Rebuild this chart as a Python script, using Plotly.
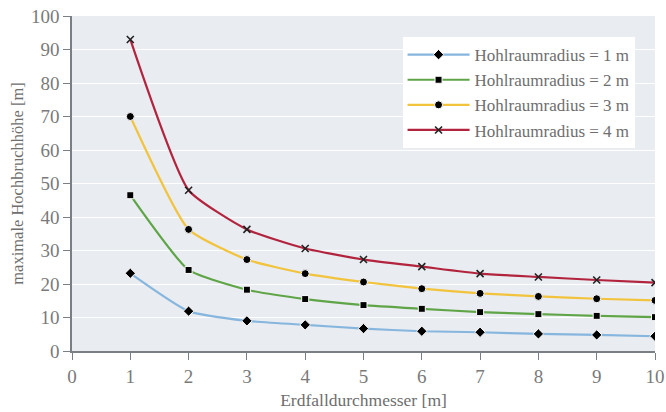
import plotly.graph_objects as go

# Erdfalldurchmesser [m]
durchmesser = [1, 2, 3, 4, 5, 6, 7, 8, 9, 10]

# maximale Hochbruchhöhe [m] je Hohlraumradius
radius_1 = [23.2, 11.9, 9.0, 7.8, 6.7, 5.9, 5.6, 5.1, 4.8, 4.4]
radius_2 = [46.5, 24.2, 18.3, 15.5, 13.7, 12.6, 11.6, 11.0, 10.5, 10.1]
radius_3 = [70.0, 36.3, 27.3, 23.1, 20.6, 18.6, 17.2, 16.3, 15.6, 15.1]
radius_4 = [93.0, 48.0, 36.3, 30.6, 27.3, 25.2, 23.1, 22.1, 21.2, 20.4]

namen = ["Hohlraumradius = 1 m", "Hohlraumradius = 2 m",
         "Hohlraumradius = 3 m", "Hohlraumradius = 4 m"]

farben = ["#86b6de", "#5fa547", "#f2c33c", "#b2243e"]
symbole = ["diamond", "square", "circle", "x-thin"]
groessen = [8, 7, 8, 7]

font_family = "Liberation Serif, DejaVu Serif, serif"

fig = go.Figure()
for werte, name, farbe, sym, gr in zip([radius_1, radius_2, radius_3, radius_4],
                                       namen, farben, symbole, groessen):
    if sym == "x-thin":
        marker = dict(symbol=sym, size=gr, color="black",
                      line=dict(color="#222", width=1.6))
    else:
        marker = dict(symbol=sym, size=gr, color="black",
                      line=dict(color="white", width=1))
    fig.add_trace(go.Scatter(
        x=durchmesser, y=werte, name=name, mode="lines+markers",
        line=dict(color=farbe, width=2.2, shape="spline", smoothing=0.5),
        marker=marker,
    ))

fig.update_layout(
    width=666, height=412,
    margin=dict(l=72, r=11, t=16, b=61),
    paper_bgcolor="white",
    plot_bgcolor="#e9ecf0",
    font=dict(family=font_family, color="#6e6e6e", size=16),
    legend=dict(
        x=0.567, y=0.937, xanchor="left", yanchor="top",
        bgcolor="white", borderwidth=0,
        font=dict(size=17, color="#6e6e6e"),
        tracegroupgap=0, itemwidth=62,
    ),
    showlegend=True,
)

fig.update_xaxes(
    range=[0, 10], dtick=1, tick0=0,
    showgrid=False, zeroline=False, automargin=False,
    showline=True, linecolor="#7a7f86", linewidth=1.5,
    ticks="outside", ticklen=7, tickcolor="#7a7f86",
    tickfont=dict(size=19, color="#7a7a7a"),
    title=dict(text="Erdfalldurchmesser [m]", font=dict(size=17.5, color="#6e6e6e"),
               standoff=8),
)
fig.update_yaxes(
    range=[0, 100], dtick=10, tick0=0,
    showgrid=True, gridcolor="white", gridwidth=1,
    zeroline=False, automargin=False,
    showline=True, linecolor="#7a7f86", linewidth=1.5,
    ticks="outside", ticklen=7, tickcolor="#7a7f86",
    tickfont=dict(size=19, color="#7a7a7a"),
    title=dict(text="maximale Hochbruchhöhe [m]", font=dict(size=16.5, color="#6e6e6e"),
               standoff=3),
)

# Browser-Standardrand des body entfernen, damit die Grafik das Fenster genau füllt
fig.write_html("out.html", config={"displayModeBar": False},
               post_script="document.body.style.margin='0';")
